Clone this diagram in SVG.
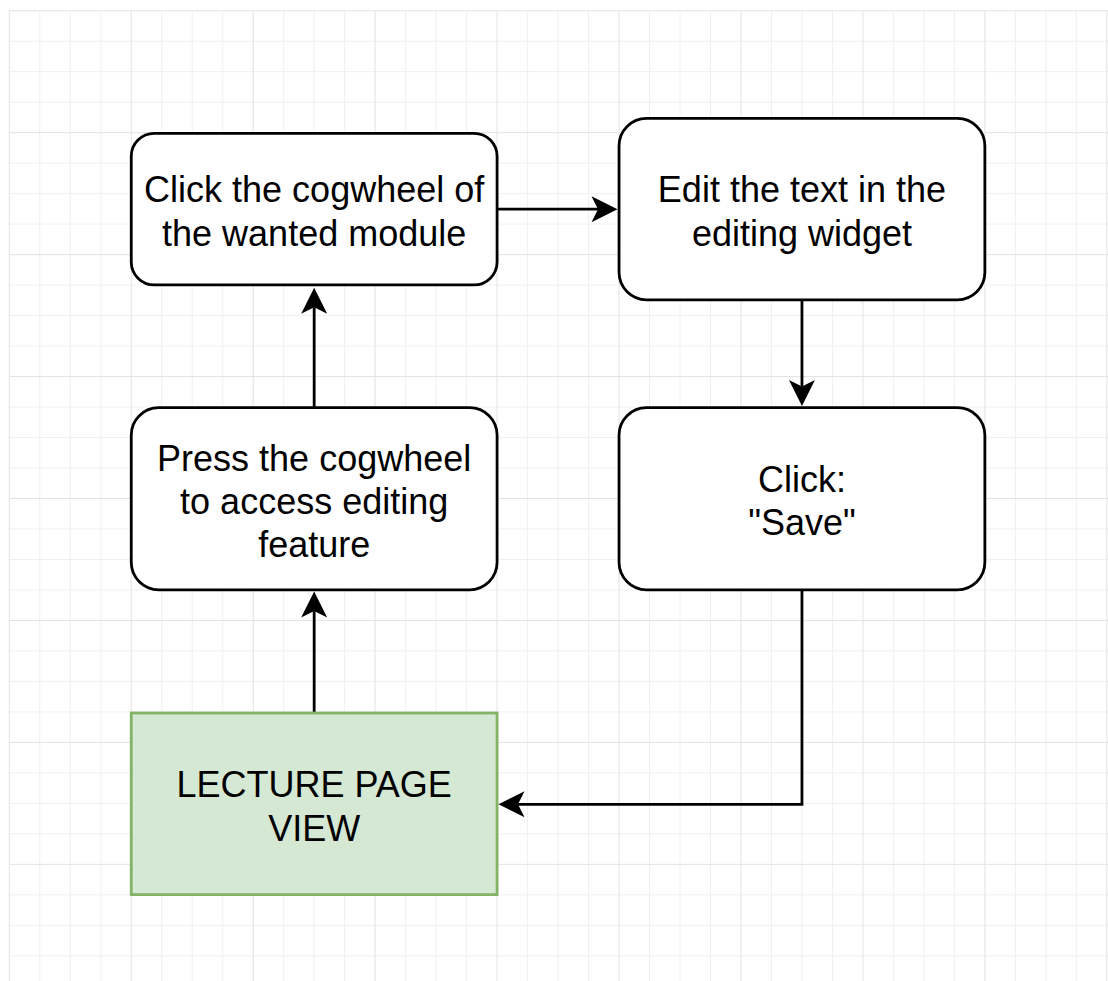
<svg xmlns="http://www.w3.org/2000/svg" width="1108" height="981" viewBox="0 0 1108 981">
  <style>
    .grid-minor { stroke: #f0f0f0; stroke-width: 1; fill: none; }
    .grid-major { stroke: #e3e3e3; stroke-width: 1; fill: none; }
    .box { fill: #ffffff; stroke: #000000; stroke-width: 2.8; }
    .start { fill: #d5e8d4; stroke: #82b366; stroke-width: 2.8; }
    .label { font-family: "Liberation Sans", Arial, sans-serif; font-size: 36px; fill: #000000; text-anchor: middle; }
    .edge { fill: none; stroke: #000000; stroke-width: 2.8; stroke-linejoin: miter; }
  </style>
  <defs>
    <!-- classic notched arrowhead; the line ends at the notch -->
    <marker id="arrow" markerUnits="userSpaceOnUse" viewBox="-8 -15 30 30" markerWidth="30" markerHeight="30" refX="0" refY="0" orient="auto">
      <path d="M19.5,0 L-6.5,-13 L0,0 L-6.5,13 Z" fill="#000000"/>
    </marker>
  </defs>

  <rect x="0" y="0" width="1108" height="981" fill="#ffffff"/>

  <!-- background grid -->
  <g id="grid">
    <path class="grid-minor" d="M39.79,10.7V981 M70.27,10.7V981 M100.76,10.7V981 M161.74,10.7V981 M192.22,10.7V981 M222.71,10.7V981 M283.68,10.7V981 M314.17,10.7V981 M344.66,10.7V981 M405.63,10.7V981 M436.12,10.7V981 M466.61,10.7V981 M527.58,10.7V981 M558.07,10.7V981 M588.55,10.7V981 M649.53,10.7V981 M680.01,10.7V981 M710.5,10.7V981 M771.48,10.7V981 M801.96,10.7V981 M832.45,10.7V981 M893.42,10.7V981 M923.91,10.7V981 M954.4,10.7V981 M1015.37,10.7V981 M1045.86,10.7V981 M1076.35,10.7V981
      M9.3,41.19H1108 M9.3,71.67H1108 M9.3,102.16H1108 M9.3,163.14H1108 M9.3,193.62H1108 M9.3,224.11H1108 M9.3,285.08H1108 M9.3,315.57H1108 M9.3,346.06H1108 M9.3,407.03H1108 M9.3,437.52H1108 M9.3,468.01H1108 M9.3,528.98H1108 M9.3,559.47H1108 M9.3,589.95H1108 M9.3,650.93H1108 M9.3,681.41H1108 M9.3,711.9H1108 M9.3,772.87H1108 M9.3,803.36H1108 M9.3,833.85H1108 M9.3,894.82H1108 M9.3,925.31H1108 M9.3,955.8H1108"/>
    <path class="grid-major" d="M9.3,10.7V981 M131.25,10.7V981 M253.2,10.7V981 M375.14,10.7V981 M497.09,10.7V981 M619.04,10.7V981 M740.99,10.7V981 M862.94,10.7V981 M984.88,10.7V981 M1106.83,10.7V981
      M9.3,10.7H1108 M9.3,132.65H1108 M9.3,254.6H1108 M9.3,376.54H1108 M9.3,498.49H1108 M9.3,620.44H1108 M9.3,742.39H1108 M9.3,864.34H1108"/>
  </g>

  <!-- connectors -->
  <g id="connectors">
    <path class="edge" marker-end="url(#arrow)" d="M497.09,209.2H598"/>
    <path class="edge" marker-end="url(#arrow)" d="M801.96,299.8V386.5"/>
    <path class="edge" marker-end="url(#arrow)" d="M801.96,589.8V804.3H518"/>
    <path class="edge" marker-end="url(#arrow)" d="M314.17,713V611"/>
    <path class="edge" marker-end="url(#arrow)" d="M314.17,407.6V307.2"/>
  </g>

  <g id="node-click-cogwheel">
    <rect class="box" x="131.25" y="133.3" width="365.84" height="151.6" rx="23" ry="23"/>
    <text class="label" x="314.17" y="201.9">Click the cogwheel of</text>
    <text class="label" x="314.17" y="245.8">the wanted module</text>
  </g>

  <g id="node-edit-text">
    <rect class="box" x="619.04" y="118.4" width="365.84" height="181.4" rx="27.5" ry="27.5"/>
    <text class="label" x="801.96" y="201.9">Edit the text in the</text>
    <text class="label" x="801.96" y="245.8">editing widget</text>
  </g>

  <g id="node-press-cogwheel">
    <rect class="box" x="131.25" y="407.6" width="365.84" height="182.2" rx="27.5" ry="27.5"/>
    <text class="label" x="314.17" y="470.8">Press the cogwheel</text>
    <text class="label" x="314.17" y="514.2">to access editing</text>
    <text class="label" x="314.17" y="557.4">feature</text>
  </g>

  <g id="node-save">
    <rect class="box" x="619.04" y="407.6" width="365.84" height="182.2" rx="27.5" ry="27.5"/>
    <text class="label" x="801.96" y="491.7">Click:</text>
    <text class="label" x="801.96" y="535.3">"Save"</text>
  </g>

  <g id="node-lecture-page">
    <rect class="start" x="131.25" y="713" width="365.84" height="181.6"/>
    <text class="label" x="314.17" y="796.8">LECTURE PAGE</text>
    <text class="label" x="314.17" y="840.6">VIEW</text>
  </g>
</svg>
